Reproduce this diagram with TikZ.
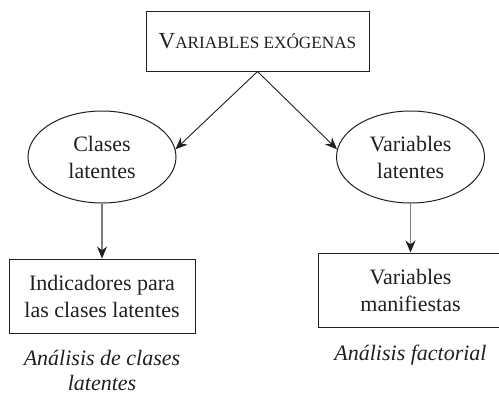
\documentclass[tikz,border=0pt]{standalone}
\usepackage{fontspec}
\setmainfont{Liberation Serif}
\usetikzlibrary{arrows.meta,positioning,shapes.geometric}
\definecolor{inkblack}{RGB}{35,31,32}
\definecolor{inkgray}{RGB}{125,125,125}
\newcommand{\fakesc}[2]{{\fontsize{11.5}{13}\selectfont #1}{\fontsize{8.6}{13}\selectfont #2}}

\begin{document}
\begin{tikzpicture}[
  x=0.5pt,y=-0.5pt,
  font=\rmfamily\fontsize{11}{13.5}\selectfont,
  box/.style={draw=inkblack,line width=0.5pt,align=center,inner sep=0pt,text=inkblack},
  blob/.style={ellipse,draw=inkblack,line width=0.5pt,align=center,inner sep=0pt,
    minimum width=74pt,minimum height=46pt,text=inkblack},
  arrow/.style={-{Stealth[length=6pt,width=5pt,color=inkblack]},line width=0.45pt,draw=inkblack},
  grayarrow/.style={arrow,draw=inkgray,line width=0.55pt},
  caption/.style={font=\rmfamily\itshape\fontsize{11}{12.5}\selectfont,align=center,text=inkblack}
]
\useasboundingbox (0,0) rectangle (499,392);

% -------------------------------------------------------------------------
% top: exogenous variables
% -------------------------------------------------------------------------
\node[box,minimum width=111.5pt,minimum height=30pt] (exo) at (257.5,41)
  {\fakesc{V}{ARIABLES EXÓGENAS}};

% -------------------------------------------------------------------------
% latent classes / latent variables
% -------------------------------------------------------------------------
\node[blob] (clases) at (102,157) {Clases\\latentes};
\node[blob] (latvar) at (410.5,157) {Variables\\latentes};

\node[box,minimum width=93pt,minimum height=37pt] (indic) at (102,296)
  {Indicadores para\\las clases latentes};
\node[box,minimum width=92.5pt,minimum height=37pt] (manif) at (410.5,290)
  {Variables\\manifiestas};

\node[caption] (capleft) at (102,370) {Análisis de clases\\latentes};
\node[caption] (capright) at (410.5,355) {Análisis factorial};

\draw[arrow] (exo.south) -- (clases.6);
\draw[arrow] (exo.south) -- (latvar.174);
\foreach \a/\b in {clases/indic,latvar/manif}
  {\draw[grayarrow] (\a.south) -- (\b.north);}
\end{tikzpicture}
\end{document}
